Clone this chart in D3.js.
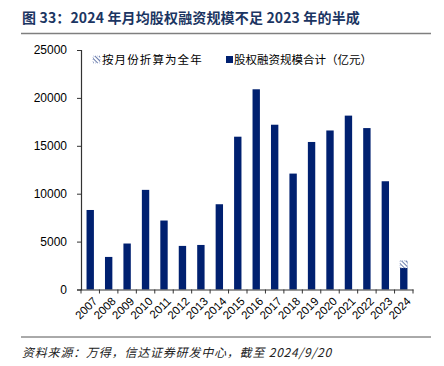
<!DOCTYPE html>
<html><head><meta charset="utf-8">
<script src="https://cdn.jsdelivr.net/npm/d3@7"></script>
<style>body{margin:0;background:#fff}svg{display:block}</style>
</head><body><svg id="c" width="444" height="366"></svg>
<script>
const years = ["2007","2008","2009","2010","2011","2012","2013","2014","2015","2016","2017","2018","2019","2020","2021","2022","2023","2024"];
const totals = [8300,3400,4800,10400,7200,4550,4650,8900,15950,20900,17200,12100,15400,16600,18150,16850,11300,2250];
const annualized = [null,null,null,null,null,null,null,null,null,null,null,null,null,null,null,null,null,3000];
const yTicks = [0,5000,10000,15000,20000,25000];
const titleText = "图 33：2024 年月均股权融资规模不足 2023 年的半成";
const legendLabels = ["按月份折算为全年","股权融资规模合计（亿元）"];
const sourceText = "资料来源：万得，信达证券研发中心，截至 2024/9/20";

const svg = d3.select("#c");
const navy = "#002070";
const cjk = "'Noto Sans CJK SC', sans-serif";

const defs = svg.append("defs");
const pat = defs.append("pattern").attr("id","hatch").attr("patternUnits","userSpaceOnUse")
  .attr("width",3).attr("height",3).attr("patternTransform","rotate(-45)");
pat.append("rect").attr("width",3).attr("height",3).attr("fill","#fff");
pat.append("line").attr("x1",0).attr("y1",0).attr("x2",0).attr("y2",3).attr("stroke",navy).attr("stroke-width",1.2);

// title
svg.append("text").attr("x",22).attr("y",23).attr("font-family",cjk).attr("font-weight","bold")
  .attr("font-size",14).attr("letter-spacing",0.15).attr("fill","#1b3562").text(titleText);
svg.append("line").attr("x1",21).attr("x2",431).attr("y1",33.5).attr("y2",33.5).attr("stroke","#7f7f7f").attr("stroke-width",1.5);

const x = d3.scaleBand().domain(years).range([81,413]).paddingInner(0.6).paddingOuter(0.3);
const y = d3.scaleLinear().domain([0,25000]).range([289.5,50]);

const g = svg.append("g");
g.selectAll("rect.tot").data(years).join("rect").attr("class","tot")
  .attr("x",d=>x(d)).attr("width",x.bandwidth())
  .attr("y",(d,i)=>y(totals[i])).attr("height",(d,i)=>y(0)-y(totals[i])).attr("fill",navy);
g.selectAll("rect.ann").data(years.filter((d,i)=>annualized[i]!=null)).join("rect").attr("class","ann")
  .attr("x",d=>x(d)).attr("width",x.bandwidth())
  .attr("y",d=>y(annualized[years.indexOf(d)]))
  .attr("height",d=>y(totals[years.indexOf(d)])-y(annualized[years.indexOf(d)]))
  .attr("fill","url(#hatch)").attr("stroke","#8090c0").attr("stroke-width",0.6).attr("stroke-dasharray","1,1");

// y axis
const ya = svg.append("g").attr("transform","translate(81,0)")
  .call(d3.axisLeft(y).tickValues(yTicks).tickSize(4).tickPadding(10).tickFormat(d3.format("d")));
ya.select(".domain").attr("stroke","#333").attr("stroke-width",1.2);
ya.selectAll(".tick line").attr("stroke","#333");
ya.selectAll("text").attr("font-family","Arial, 'Liberation Sans', sans-serif").attr("font-size",12).attr("fill","#000");

// x axis
const xa = svg.append("g").attr("transform","translate(0,289.5)").call(d3.axisBottom(x).tickSize(0).tickFormat(""));
xa.select(".domain").attr("stroke","#333").attr("stroke-width",1.2);
const step = x.step();
const bounds = d3.range(years.length+1).map(i=>81+i*step);
svg.append("g").selectAll("line").data(bounds).join("line")
  .attr("x1",d=>d).attr("x2",d=>d).attr("y1",289.5).attr("y2",293.5).attr("stroke","#333");
svg.append("g").selectAll("text").data(years).join("text")
  .attr("transform",d=>`translate(${x(d)+x.bandwidth()/2+5},${299}) rotate(-45)`)
  .attr("text-anchor","end").attr("font-family","Arial, 'Liberation Sans', sans-serif").attr("font-size",11.5)
  .attr("dy","0.35em").text(d=>d);

// legend
const lg = svg.append("g");
lg.append("rect").attr("x",93).attr("y",56).attr("width",7).attr("height",7).attr("fill","url(#hatch)")
  .attr("stroke","#8090c0").attr("stroke-width",0.5).attr("stroke-dasharray","1,1");
lg.append("text").attr("x",102).attr("y",60).attr("dy","0.35em").attr("font-family",cjk).attr("font-size",11.5)
  .attr("letter-spacing",1.1).text(legendLabels[0]);
lg.append("rect").attr("x",226).attr("y",56).attr("width",7).attr("height",7).attr("fill",navy);
lg.append("text").attr("x",234).attr("y",60).attr("dy","0.35em").attr("font-family",cjk).attr("font-size",11.5).text(legendLabels[1]);

// footer
svg.append("line").attr("x1",21).attr("x2",431).attr("y1",337).attr("y2",337).attr("stroke","#555").attr("stroke-width",1);
svg.append("text").attr("x",22).attr("y",357).attr("font-family",cjk).attr("font-style","italic")
  .attr("font-size",12).attr("letter-spacing",0.8).attr("fill","#222").text(sourceText);
</script></body></html>
